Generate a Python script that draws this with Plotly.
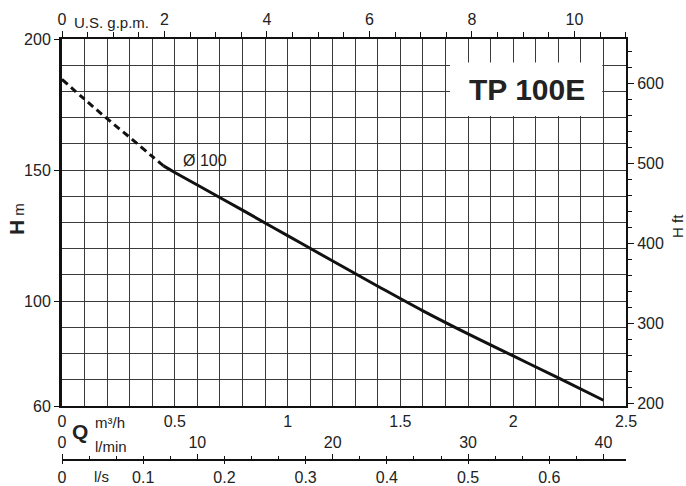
import plotly.graph_objects as go

# ---- data ----
q_dash = [0.0, 0.1, 0.2, 0.3, 0.4, 0.45]            # m3/h
h_dash = [184.6, 177.0, 169.6, 162.5, 155.2, 151.6]  # m
q_solid = [0.45, 0.5, 0.6, 0.8, 1.0, 1.2, 1.4, 1.6, 1.8, 2.0, 2.2, 2.4]
h_solid = [151.6, 149.1, 144.3, 134.7, 125.0, 115.3, 105.7, 96.3, 87.5, 79.1, 70.7, 62.2]
curve_label = "Ø 100"
model_label = "TP 100E"

q_ticks = [0, 0.5, 1, 1.5, 2, 2.5]
q_ticktext = ["0", "0.5", "1", "1.5", "2", "2.5"]
h_ticks = [60, 100, 150, 200]
gpm_ticks = [0, 2, 4, 6, 8, 10]
ft_ticks = [200, 300, 400, 500, 600]
lmin_ticks = [0, 10, 20, 30, 40]
ls_ticks = [0, 0.1, 0.2, 0.3, 0.4, 0.5, 0.6]
ls_ticktext = ["0", "0.1", "0.2", "0.3", "0.4", "0.5", "0.6"]

Q_MAX = 2.5
H_MIN, H_MAX = 60, 200
GPM_PER_M3H = 1000 / 3.785411784 / 60
FT_PER_M = 1 / 0.3048

W, HGT = 686, 486
ML, MR, MT, MB = 62, 60, 39, 26
PLOT_BOTTOM_PX = 406
plot_h = HGT - MT - MB
plot_w = W - ML - MR
ydom0 = (HGT - MB - PLOT_BOTTOM_PX) / plot_h


def px_x(px):
    return (px - ML) / plot_w


def px_y(py):
    return (HGT - MB - py) / plot_h


FONT = "Liberation Sans, Arial, Helvetica, sans-serif"
TXT = "#222222"
GRID = "#3a3a3a"
tickfont = dict(family=FONT, size=16, color=TXT)

fig = go.Figure()
fig.add_trace(go.Scatter(x=q_dash, y=h_dash, mode="lines", line=dict(color="#111", width=3, dash="7px,4.5px", shape="spline", smoothing=1), hoverinfo="skip", showlegend=False))
fig.add_trace(go.Scatter(x=q_solid, y=h_solid, mode="lines", line=dict(color="#111", width=3, shape="spline", smoothing=1), hoverinfo="skip", showlegend=False))
# invisible traces so that the secondary axes are drawn
fig.add_trace(go.Scatter(x=[0], y=[ft_ticks[0]], xaxis="x2", yaxis="y2", mode="markers", marker=dict(opacity=0), hoverinfo="skip", showlegend=False))
fig.add_trace(go.Scatter(x=[0], y=[H_MIN], xaxis="x3", yaxis="y", mode="markers", marker=dict(opacity=0), hoverinfo="skip", showlegend=False))
fig.add_trace(go.Scatter(x=[0], y=[H_MIN], xaxis="x4", yaxis="y", mode="markers", marker=dict(opacity=0), hoverinfo="skip", showlegend=False))

fig.update_layout(
    width=W, height=HGT,
    margin=dict(l=ML, r=MR, t=MT, b=MB, autoexpand=False),
    paper_bgcolor="white", plot_bgcolor="white",
    font=dict(family=FONT, color=TXT),
    xaxis=dict(range=[0, Q_MAX], domain=[0, 1], anchor="y", tickmode="array", tickvals=q_ticks, ticktext=q_ticktext,
               ticks="", showgrid=True, gridcolor=GRID, gridwidth=1, zeroline=False, automargin=False,
               showline=True, linecolor="#111", linewidth=2, tickfont=tickfont,
               minor=dict(tick0=0, dtick=0.1, showgrid=True, gridcolor=GRID, gridwidth=1, ticks="")),
    yaxis=dict(range=[H_MIN, H_MAX], domain=[ydom0, 1], anchor="x", tickmode="array", tickvals=h_ticks,
               ticks="outside", ticklen=5, tickcolor="#111", tickwidth=1, automargin=False,
               showgrid=True, gridcolor=GRID, gridwidth=1, zeroline=False,
               showline=True, linecolor="#111", linewidth=3, tickfont=tickfont,
               minor=dict(tick0=0, dtick=10, showgrid=True, gridcolor=GRID, gridwidth=1, ticks="")),
    xaxis2=dict(range=[0, Q_MAX * GPM_PER_M3H], overlaying="x", side="top", anchor="y", tickmode="array", tickvals=gpm_ticks,
                ticks="outside", ticklen=6, tickcolor="#111", showgrid=False, zeroline=False, automargin=False,
                showline=True, linecolor="#111", linewidth=2, tickfont=tickfont,
                minor=dict(tick0=0, dtick=0.5, ticks="outside", ticklen=5, tickcolor="#111", showgrid=False)),
    yaxis2=dict(range=[H_MIN * FT_PER_M, H_MAX * FT_PER_M], overlaying="y", side="right", anchor="x", tickmode="array", tickvals=ft_ticks,
                ticks="outside", ticklen=6, tickcolor="#111", showgrid=False, zeroline=False, automargin=False,
                showline=True, linecolor="#111", linewidth=2, tickfont=tickfont,
                minor=dict(tick0=0, dtick=20, ticks="outside", ticklen=4, tickcolor="#111", showgrid=False)),
    xaxis3=dict(range=[0, Q_MAX / 3.6], overlaying="x", side="bottom", anchor="free", position=0, tickmode="array",
                tickvals=ls_ticks, ticktext=ls_ticktext, automargin=False,
                ticks="outside", ticklen=3, tickcolor="#111", showgrid=False, zeroline=False,
                showline=True, linecolor="#111", linewidth=2, tickfont=tickfont),
    xaxis4=dict(range=[0, Q_MAX * 1000 / 60], overlaying="x", side="top", anchor="free", position=0, tickmode="array",
                tickvals=lmin_ticks, ticks="outside", ticklen=6, tickcolor="#111", showgrid=False, zeroline=False,
                showline=False, tickfont=tickfont, automargin=False,
                minor=dict(tick0=0, dtick=2, ticks="outside", ticklen=4, tickcolor="#111", showgrid=False)),
)

# white box behind the model name
fig.add_shape(type="rect", xref="x", yref="y", x0=1.72, x1=2.395, y0=170.6, y1=191.0,
              fillcolor="white", line=dict(width=0), layer="above")

ann = [
    dict(text="<b>" + model_label + "</b>", x=2.06, y=180.8, xref="x", yref="y", font=dict(size=30, family=FONT, color=TXT)),
    dict(text=curve_label, x=0.635, y=153.8, xref="x", yref="y", font=dict(size=16, family=FONT, color=TXT)),
    dict(text="U.S. g.p.m.", x=px_x(111), y=px_y(22), font=dict(size=15, family=FONT, color=TXT)),
    dict(text="<b>Q</b>", x=px_x(80), y=px_y(431), font=dict(size=21, family=FONT, color=TXT)),
    dict(text="m³/h", x=px_x(110), y=px_y(422), font=dict(size=15, family=FONT, color=TXT)),
    dict(text="l/min", x=px_x(111), y=px_y(446), font=dict(size=15, family=FONT, color=TXT)),
    dict(text="l/s", x=px_x(101), y=px_y(477), font=dict(size=15, family=FONT, color=TXT)),
    dict(text="<b><span style='font-size:21px'>H</span></b> m", x=px_x(16), y=px_y(219), textangle=-90, font=dict(size=15, family=FONT, color=TXT)),
    dict(text="H ft", x=px_x(677), y=px_y(226), textangle=-90, font=dict(size=15, family=FONT, color=TXT)),
]
for a in ann:
    a.setdefault("xref", "paper")
    a.setdefault("yref", "paper")
    a.update(showarrow=False, xanchor="center", yanchor="middle")
    fig.add_annotation(**a)

fig.write_html(
    "out.html",
    config={"displayModeBar": False, "staticPlot": True},
    post_script="document.documentElement.style.margin='0';document.body.style.margin='0';"
                "document.body.style.padding='0';document.body.style.overflow='hidden';",
)
